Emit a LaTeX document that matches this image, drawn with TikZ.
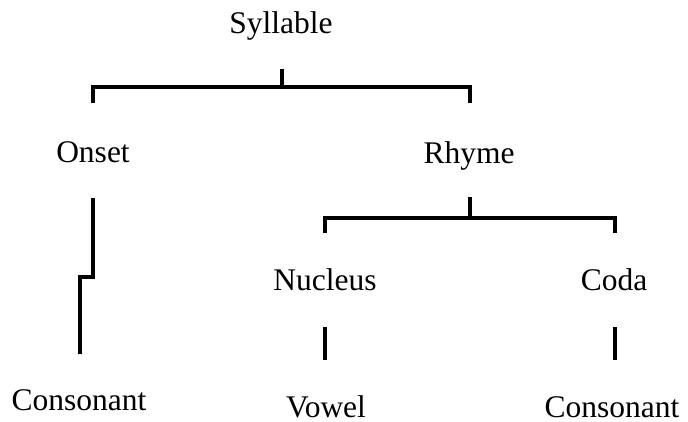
\documentclass[tikz,border=0pt]{standalone}
\usepackage{fontspec}
\setmainfont{Liberation Serif}
\begin{document}
\begin{tikzpicture}[x=1pt,y=-1pt,
  lbl/.style={anchor=base,inner sep=0pt,font=\fontsize{31.5}{37}\selectfont},
  tree/.style={line width=4.3pt,line join=miter,line cap=butt}]
\useasboundingbox (0,0) rectangle (688,421);
% labels
\node[lbl] (syl) at (281,33) {Syllable};
\node[lbl] (onset) at (93,162) {Onset};
\node[lbl] (rhyme) at (469,163) {Rhyme};
\node[lbl] (nuc) at (325,290) {Nucleus};
\node[lbl] (coda) at (614,290) {Coda};
\node[lbl] (cons1) at (79,410) {Consonant};
\node[lbl] (vowel) at (326,417.5) {Vowel};
\node[lbl] (cons2) at (612,417.5) {Consonant};
% bracket points
\coordinate (s1) at (282,69);
\coordinate (s2) at (282,87);
\coordinate (sL) at (93,87);
\coordinate (sLd) at (93,103);
\coordinate (sR) at (470,87);
\coordinate (sRd) at (470,103);
\coordinate (o1) at (93,198);
\coordinate (o2) at (93,277);
\coordinate (o3) at (80,277);
\coordinate (o4) at (80,354);
\coordinate (r1) at (470,197);
\coordinate (r2) at (470,218);
\coordinate (rL) at (325,218);
\coordinate (rLd) at (325,233);
\coordinate (rR) at (615,218);
\coordinate (rRd) at (615,233);
\coordinate (n1) at (325,327);
\coordinate (n2) at (325,360);
\coordinate (c1) at (615,327);
\coordinate (c2) at (615,360);
% connectors
\draw[tree] (s1) -- (s2);
\draw[tree] (sLd) -- (sL) -- (sR) -- (sRd);
\draw[tree] (o1) -- (o2) -- (o3) -- (o4);
\draw[tree] (r1) -- (r2);
\draw[tree] (rLd) -- (rL) -- (rR) -- (rRd);
\draw[tree] (n1) -- (n2);
\draw[tree] (c1) -- (c2);
\end{tikzpicture}
\end{document}
